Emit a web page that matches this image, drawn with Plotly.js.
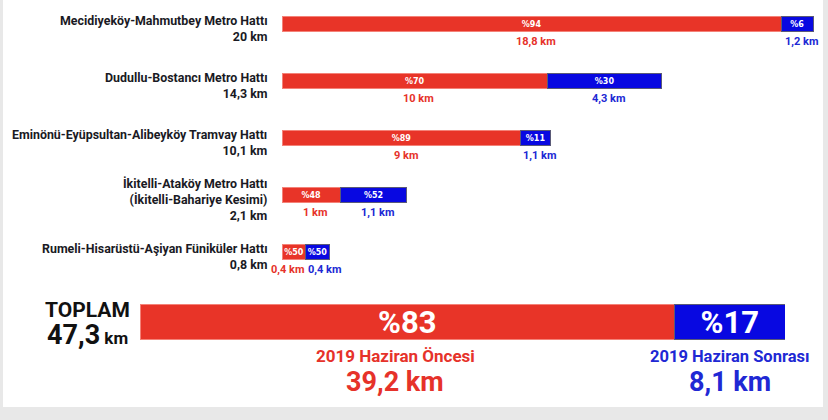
<!DOCTYPE html>
<html><head><meta charset="utf-8">
<script src="https://cdn.plot.ly/plotly-3.0.1.min.js"></script>
<style>html,body{margin:0;padding:0;background:#e9e9e9}#chart{width:828px;height:420px}</style>
</head><body><div id="chart"></div>
<script>
// ---- data ----
const lineNames = [
  "Mecidiyeköy-Mahmutbey Metro Hattı",
  "Dudullu-Bostancı Metro Hattı",
  "Eminönü-Eyüpsultan-Alibeyköy Tramvay Hattı",
  "İkitelli-Ataköy Metro Hattı<br>(İkitelli-Bahariye Kesimi)",
  "Rumeli-Hisarüstü-Aşiyan Füniküler Hattı"
];
const lineTotalKm = [20, 14.3, 10.1, 2.1, 0.8];
const kmBefore = [18.8, 10, 9, 1, 0.4];
const kmAfter = [1.2, 4.3, 1.1, 1.1, 0.4];
const pctBefore = [94, 70, 89, 48, 50];
const pctAfter = [6, 30, 11, 52, 50];
// bar lengths as drawn in the picture (km scale; the two short lines are drawn enlarged)
const barBefore = [18.8, 10, 9, 2.2, 0.9];
const barAfter = [1.2, 4.3, 1.1, 2.5, 0.87];
const totalLabel = "TOPLAM";
const totalKm = 47.3;
const totalBefore = 39.2;
const totalAfter = 8.1;
const totalPctBefore = 83;
const totalPctAfter = 17;
const periodBefore = "2019 Haziran Öncesi";
const periodAfter = "2019 Haziran Sonrası";

// ---- helpers ----
const W = 828, H = 420;
const px = x => x / W;
const py = y => 1 - y / H;
const fmt = v => String(v).replace('.', ',');
const rows = lineNames.map((_, i) => i);
const RED = 'rgb(232,52,40)', BLUE = 'rgb(8,8,225)';
const TRED = 'rgb(230,50,42)', TBLUE = 'rgb(32,40,212)';
const FONT = 'Roboto, "Liberation Sans", sans-serif';
const DARK = '#1a1a24';

const traces = [
  {type: 'bar', orientation: 'h', y: rows, x: barBefore, width: 0.28, xaxis: 'x', yaxis: 'y',
   marker: {color: RED, line: {color: 'rgb(244,130,120)', width: 1}},
   text: pctBefore.map(p => '%' + p), textposition: 'inside', insidetextanchor: 'middle',
   constraintext: 'none', textangle: 0,
   textfont: {family: '"DejaVu Sans", sans-serif', size: 8, color: 'white', weight: 'bold'}, hoverinfo: 'skip'},
  {type: 'bar', orientation: 'h', y: rows, x: barAfter, width: 0.28, xaxis: 'x', yaxis: 'y',
   marker: {color: BLUE, line: {color: 'rgb(90,90,120)', width: 1}},
   text: pctAfter.map(p => '%' + p), textposition: 'inside', insidetextanchor: 'middle',
   constraintext: 'none', textangle: 0,
   textfont: {family: '"DejaVu Sans", sans-serif', size: 8, color: 'white', weight: 'bold'}, hoverinfo: 'skip'},
  {type: 'bar', orientation: 'h', y: [0], x: [totalBefore], width: 0.55, xaxis: 'x2', yaxis: 'y2',
   marker: {color: RED, line: {color: 'rgb(244,130,120)', width: 1}},
   text: ['%' + totalPctBefore], textposition: 'inside', insidetextanchor: 'middle',
   constraintext: 'none', textangle: 0,
   textfont: {family: FONT, size: 31, color: 'white', weight: 'bold'}, hoverinfo: 'skip'},
  {type: 'bar', orientation: 'h', y: [0], x: [totalAfter], width: 0.55, xaxis: 'x2', yaxis: 'y2',
   marker: {color: BLUE, line: {color: 'rgb(90,90,120)', width: 1}},
   text: ['%' + totalPctAfter], textposition: 'inside', insidetextanchor: 'middle',
   constraintext: 'none', textangle: 0,
   textfont: {family: FONT, size: 31, color: 'white', weight: 'bold'}, hoverinfo: 'skip'}
];

const ann = [];
rows.forEach(i => {
  ann.push({xref: 'paper', x: px(270), xanchor: 'right', yref: 'y', y: i, yanchor: 'middle', yshift: -4,
    align: 'right', showarrow: false,
    text: lineNames[i].split('<br>').map(s => '<b>' + s + '</b>').join('<br>') + '<br><b>' + fmt(lineTotalKm[i]) + ' km</b>',
    font: {family: FONT, size: 12.4, color: DARK}});
  const narrow = barAfter[i] < 1;
  ann.push({xref: 'x', x: narrow ? barBefore[i] : barBefore[i] / 2, xanchor: narrow ? 'right' : 'center',
    xshift: narrow ? 0 : 4, yref: 'y', y: i, yanchor: 'middle', yshift: -17, showarrow: false,
    text: '<b>' + fmt(kmBefore[i]) + ' km</b>', font: {family: FONT, size: 11, color: TRED}});
  ann.push({xref: 'x', x: narrow ? barBefore[i] : barBefore[i] + barAfter[i] / 2, xanchor: narrow ? 'left' : 'center',
    xshift: narrow ? 0 : 4, yref: 'y', y: i, yanchor: 'middle', yshift: -17, showarrow: false,
    text: '<b>' + fmt(kmAfter[i]) + ' km</b>', font: {family: FONT, size: 11, color: TBLUE}});
});
ann.push({xref: 'paper', x: px(87), xanchor: 'center', yref: 'paper', y: py(310), yanchor: 'middle', showarrow: false,
  text: '<b>' + totalLabel + '</b>', font: {family: FONT, size: 21, color: '#111'}});
ann.push({xref: 'paper', x: px(87), xanchor: 'center', yref: 'paper', y: py(335), yanchor: 'middle', showarrow: false,
  text: '<b>' + fmt(totalKm) + '</b><span style="font-size:17px"><b> km</b></span>', font: {family: FONT, size: 27, color: '#111'}});
ann.push({xref: 'x2', x: totalBefore / 2, xanchor: 'center', xshift: -12, yref: 'paper', y: py(356), yanchor: 'middle', showarrow: false,
  text: '<b>' + periodBefore + '</b>', font: {family: FONT, size: 17, color: TRED}});
ann.push({xref: 'x2', x: totalBefore / 2, xanchor: 'center', xshift: -12, yref: 'paper', y: py(382), yanchor: 'middle', showarrow: false,
  text: '<b>' + fmt(totalBefore) + ' km</b>', font: {family: FONT, size: 27, color: TRED}});
ann.push({xref: 'x2', x: totalBefore + totalAfter / 2, xanchor: 'center', yref: 'paper', y: py(356), yanchor: 'middle', showarrow: false,
  text: '<b>' + periodAfter + '</b>', font: {family: FONT, size: 16.5, color: TBLUE}});
ann.push({xref: 'x2', x: totalBefore + totalAfter / 2, xanchor: 'center', yref: 'paper', y: py(382), yanchor: 'middle', showarrow: false,
  text: '<b>' + fmt(totalAfter) + ' km</b>', font: {family: FONT, size: 27, color: TBLUE}});

const layout = {
  width: W, height: H, margin: {l: 0, r: 0, t: 0, b: 0},
  paper_bgcolor: '#e8e8e8', plot_bgcolor: 'rgba(0,0,0,0)',
  barmode: 'stack', showlegend: false, hovermode: false,
  xaxis: {domain: [px(282), px(820)], range: [0, 20.26], visible: false, fixedrange: true},
  yaxis: {domain: [py(280), 1], range: [4.491, -0.421], visible: false, fixedrange: true},
  xaxis2: {domain: [px(140), px(785)], range: [0, totalKm], visible: false, anchor: 'y2', fixedrange: true},
  yaxis2: {domain: [py(354), py(290)], range: [-0.5, 0.5], visible: false, anchor: 'x2', fixedrange: true},
  shapes: [{type: 'rect', xref: 'paper', yref: 'paper', x0: px(3), x1: px(823), y0: py(407), y1: 1.05,
    fillcolor: 'white', line: {width: 0}, layer: 'below'}],
  annotations: ann
};
Plotly.newPlot('chart', traces, layout, {displayModeBar: false, staticPlot: true});
</script></body></html>
